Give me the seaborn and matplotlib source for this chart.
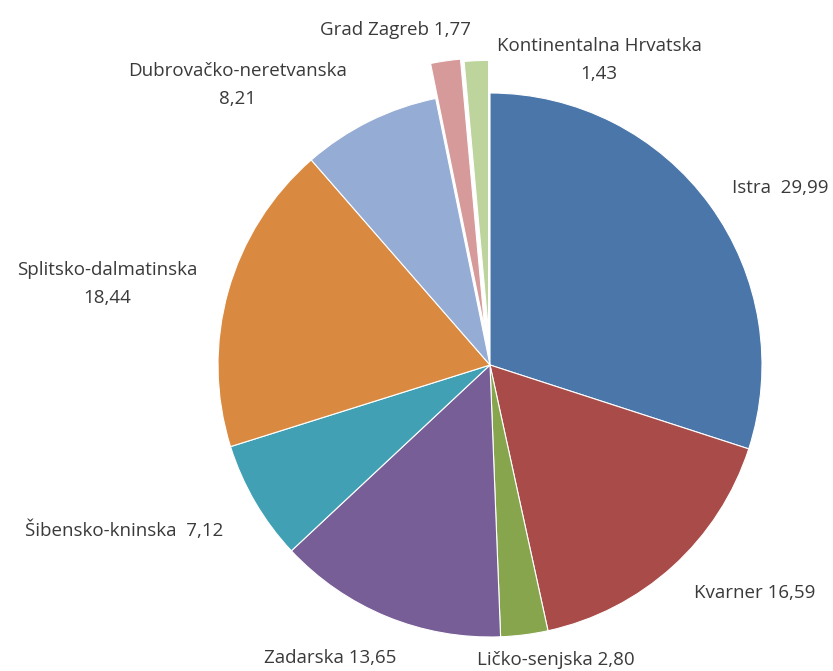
import matplotlib
matplotlib.use("Agg")
import matplotlib.pyplot as plt
import seaborn as sns

# shares by region (%), clockwise from the top
regions = ["Istra", "Kvarner", "Ličko-senjska", "Zadarska", "Šibensko-kninska",
           "Splitsko-dalmatinska", "Dubrovačko-neretvanska", "Grad Zagreb",
           "Kontinentalna Hrvatska"]
shares = [29.99, 16.59, 2.80, 13.65, 7.12, 18.44, 8.21, 1.77, 1.43]
colors = ["#4a76aa", "#a94b48", "#86a54c", "#775e96", "#42a0b5",
          "#da8a40", "#95acd4", "#d79a9a", "#bdd49d"]
explode = [0, 0, 0, 0, 0, 0, 0, 0.13, 0.12]  # fraction of radius

# label text layout: (separator between name and value, x, y) in pixel coords from top-left
label_layout = [("  ", 780, 188), (" ", 755, 593), (" ", 556, 660), (" ", 330, 658),
                ("  ", 124, 530), ("\n", 107, 284), ("\n", 238, 85), (" ", 396, 30),
                ("\n", 599, 60)]

sns.set_theme(style="white")
plt.rcParams['font.family'] = ['Open Sans', 'DejaVu Sans']

W, H = 833, 671
fig = plt.figure(figsize=(W / 100, H / 100), dpi=100)
ax = fig.add_axes([0, 0, 1, 1])

cx, cy, r = 490, 365, 272
wedges, _ = ax.pie(shares, colors=colors, explode=[e * r for e in explode],
                   startangle=90, counterclock=False, radius=r, center=(cx, cy),
                   wedgeprops=dict(edgecolor="white", linewidth=0.8), frame=True)
# pixel-like coords with y going down; flip the pie about its center to keep clockwise order
for w in wedges:
    w.set_transform(matplotlib.transforms.Affine2D().translate(-cx, -cy).scale(1, -1)
                    .translate(cx, cy) + ax.transData)
ax.set_xlim(0, W)
ax.set_ylim(H, 0)
ax.set_aspect("equal")
ax.axis("off")

for name, val, (sep, x, y) in zip(regions, shares, label_layout):
    txt = f"{name}{sep}{val:.2f}".replace(".", ",")
    ax.text(x, y, txt, ha="center", va="center", fontsize=13.5,
            color="#3a3a3a", linespacing=1.7)

fig.savefig("out.png", dpi=100)
